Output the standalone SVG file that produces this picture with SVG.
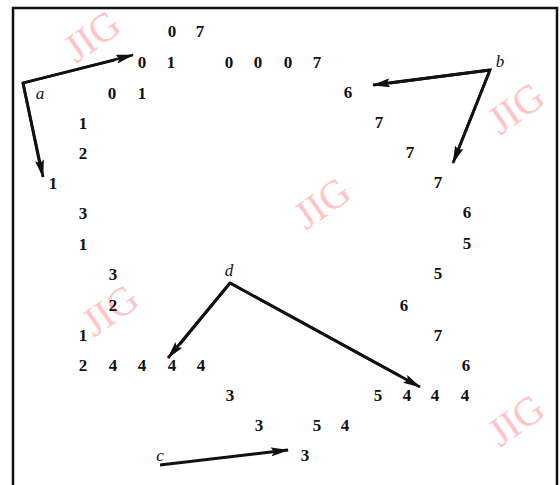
<svg xmlns="http://www.w3.org/2000/svg" width="560" height="485" viewBox="0 0 560 485">
<style>
.t{font-family:"Liberation Serif","Times New Roman",serif;font-size:17px;font-weight:bold;fill:#111;text-anchor:middle;dominant-baseline:central}
.l{font-family:"Liberation Serif","Times New Roman",serif;font-size:17px;font-style:italic;fill:#111;text-anchor:middle;dominant-baseline:central}
.w{font-family:"Liberation Serif","Times New Roman",serif;font-size:40px;fill:#ffc4c4;text-anchor:middle;dominant-baseline:central}
.c{fill:none;stroke:#111;stroke-width:2.8;stroke-linejoin:miter}
</style>
<defs>
<marker id="ah" markerWidth="18" markerHeight="9" refX="17" refY="4.5" orient="auto" markerUnits="userSpaceOnUse">
<path d="M0,0 L18,4.5 L0,9 L3,4.5 Z" fill="#111"/>
</marker>
</defs>
<rect x="0" y="0" width="560" height="485" fill="#fff"/>
<g id="watermarks">
<text class="w" transform="translate(92,36) rotate(-35)">JIG</text>
<text class="w" transform="translate(516,108) rotate(-35)">JIG</text>
<text class="w" transform="translate(322,203) rotate(-35)">JIG</text>
<text class="w" transform="translate(110,310) rotate(-35)">JIG</text>
<text class="w" transform="translate(516,420) rotate(-35)">JIG</text>
</g>
<rect x="13" y="8" width="544" height="480" fill="none" stroke="#111" stroke-width="2.5"/>
<g id="connectors">
<polyline class="c" points="115,60 23,83 40,165"/>
<line class="c" x1="23" y1="83" x2="133" y2="55" marker-end="url(#ah)"/>
<line class="c" x1="23" y1="83" x2="43" y2="177" marker-end="url(#ah)"/>
<polyline class="c" points="390,83 490,70 458,150"/>
<line class="c" x1="490" y1="70" x2="373" y2="85" marker-end="url(#ah)"/>
<line class="c" x1="490" y1="70" x2="453" y2="163" marker-end="url(#ah)"/>
<polyline class="c" points="180,344 230,283 400,376"/>
<line class="c" x1="230" y1="283" x2="168" y2="358" marker-end="url(#ah)"/>
<line class="c" x1="230" y1="283" x2="420" y2="387" marker-end="url(#ah)"/>
<line class="c" x1="160" y1="465" x2="288" y2="450" marker-end="url(#ah)"/>
</g>
<g id="labels">
<text class="l" x="40" y="93">a</text>
<text class="l" x="500" y="61">b</text>
<text class="l" x="160" y="455">c</text>
<text class="l" x="229" y="270">d</text>
</g>
<g id="chain">
<text class="t" x="172" y="31">0</text><text class="t" x="200" y="31">7</text>
<text class="t" x="142" y="62">0</text><text class="t" x="171" y="62">1</text>
<text class="t" x="229" y="62">0</text><text class="t" x="258" y="62">0</text>
<text class="t" x="288" y="62">0</text><text class="t" x="317" y="62">7</text>
<text class="t" x="112" y="93">0</text><text class="t" x="142" y="93">1</text>
<text class="t" x="348" y="92">6</text>
<text class="t" x="83" y="123">1</text>
<text class="t" x="379" y="122">7</text>
<text class="t" x="83" y="153">2</text>
<text class="t" x="410" y="152">7</text>
<text class="t" x="53" y="183">1</text>
<text class="t" x="438" y="182">7</text>
<text class="t" x="83" y="213">3</text>
<text class="t" x="467" y="212">6</text>
<text class="t" x="83" y="244">1</text>
<text class="t" x="467" y="243">5</text>
<text class="t" x="113" y="274">3</text>
<text class="t" x="438" y="273">5</text>
<text class="t" x="113" y="305">2</text>
<text class="t" x="404" y="305">6</text>
<text class="t" x="83" y="335">1</text>
<text class="t" x="438" y="335">7</text>
<text class="t" x="83" y="365">2</text><text class="t" x="113" y="365">4</text>
<text class="t" x="142" y="365">4</text><text class="t" x="172" y="365">4</text>
<text class="t" x="201" y="365">4</text>
<text class="t" x="466" y="365">6</text>
<text class="t" x="230" y="395">3</text>
<text class="t" x="378" y="395">5</text><text class="t" x="407" y="395">4</text>
<text class="t" x="435" y="395">4</text><text class="t" x="465" y="395">4</text>
<text class="t" x="259" y="425">3</text>
<text class="t" x="317" y="425">5</text><text class="t" x="345" y="425">4</text>
<text class="t" x="305" y="455">3</text>
</g>
</svg>
